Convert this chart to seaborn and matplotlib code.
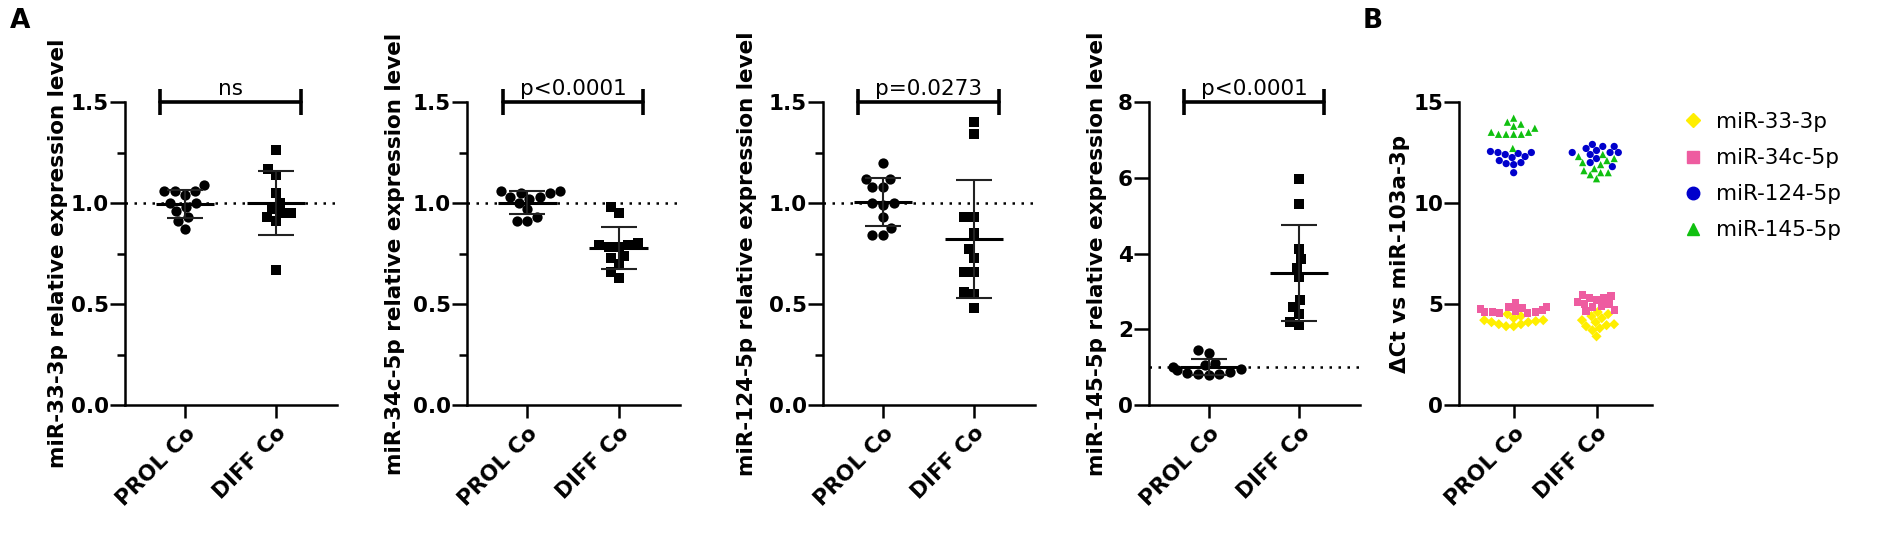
import numpy as np
import pandas as pd
import matplotlib
matplotlib.use('Agg')
import matplotlib.pyplot as plt
import seaborn as sns
from matplotlib.markers import MarkerStyle
from matplotlib.lines import Line2D
from matplotlib.ticker import MultipleLocator

groups = ['PROL Co', 'DIFF Co']

# Panel A - relative expression, one value per sample
mir33_prol = [1.04, 1.06, 1.06, 1.09, 1.06, 1.00, 1.00, 0.98, 0.96, 0.93, 0.91, 0.87]
mir33_diff = [1.26, 1.17, 1.14, 1.05, 1.00, 0.97, 0.95, 0.95, 0.93, 0.91, 0.67]
mir34c_prol = [1.03, 1.05, 1.06, 1.05, 1.06, 1.03, 1.02, 1.00, 0.97, 0.93, 0.91, 0.91]
mir34c_diff = [0.98, 0.95, 0.80, 0.79, 0.79, 0.78, 0.78, 0.74, 0.73, 0.70, 0.66, 0.63]
mir124_prol = [1.20, 1.12, 1.12, 1.08, 1.08, 1.00, 0.99, 1.00, 0.93, 0.875, 0.84, 0.84]
mir124_diff = [1.40, 1.34, 0.93, 0.93, 0.85, 0.77, 0.73, 0.66, 0.66, 0.56, 0.55, 0.48]
mir145_prol = [1.45, 1.38, 1.12, 1.05, 1.00, 0.95, 0.92, 0.88, 0.85, 0.83, 0.82, 0.80]
mir145_diff = [5.96, 5.32, 4.12, 3.85, 3.63, 3.39, 2.78, 2.60, 2.41, 2.20, 2.10]

ylabels = ['miR-33-3p relative expression level',
           'miR-34c-5p relative expression level',
           'miR-124-5p relative expression level',
           'miR-145-5p relative expression level']
pvals = ['ns', 'p<0.0001', 'p=0.0273', 'p<0.0001']
ytops = [1.5, 1.5, 1.5, 8]

# Panel B - delta Ct vs miR-103a-3p
mirs = ['miR-33-3p', 'miR-34c-5p', 'miR-124-5p', 'miR-145-5p']
dct_prol = {
    'miR-33-3p': [4.5, 4.4, 4.3, 4.2, 4.2, 4.15, 4.1, 4.1, 4.0, 4.0, 3.9, 3.9],
    'miR-34c-5p': [5.05, 4.85, 4.85, 4.8, 4.75, 4.7, 4.65, 4.6, 4.6, 4.6, 4.55, 4.55],
    'miR-124-5p': [12.55, 12.5, 12.5, 12.45, 12.4, 12.3, 12.25, 12.1, 12.0, 11.95, 11.9, 11.5],
    'miR-145-5p': [14.2, 14.0, 13.9, 13.8, 13.7, 13.5, 13.5, 13.4, 13.4, 13.4, 13.4, 12.7],
}
dct_diff = {
    'miR-33-3p': [4.6, 4.5, 4.4, 4.3, 4.2, 4.1, 4.0, 3.95, 3.9, 3.8, 3.7, 3.4],
    'miR-34c-5p': [5.45, 5.4, 5.3, 5.3, 5.2, 5.1, 5.0, 5.0, 4.9, 4.85, 4.7, 4.65],
    'miR-124-5p': [12.9, 12.8, 12.8, 12.7, 12.6, 12.5, 12.5, 12.5, 12.4, 12.2, 12.0, 11.8],
    'miR-145-5p': [12.4, 12.3, 12.2, 12.1, 12.0, 11.9, 11.7, 11.6, 11.5, 11.5, 11.4, 11.2],
}
mir_colors = ['#FFEE00', '#EE5CA0', '#0000CC', '#10C010']
mir_markers = ['D', 's', 'o', '^']

sns.set_theme(style='ticks')
plt.rcParams['font.family'] = ['DejaVu Sans']
plt.rcParams.update({
    'axes.linewidth': 1.8,
    'axes.edgecolor': 'black',
    'axes.labelcolor': 'black',
    'text.color': 'black',
    'xtick.color': 'black',
    'ytick.color': 'black',
})

FS = 15.5
W, H = 1901, 551
fig = plt.figure(figsize=(W / 100, H / 100), dpi=100)
bottom = 1 - 405 / H
height = (405 - 102) / H


def style_axis(ax, label, label_dist, width_px):
    sns.despine(ax=ax)
    ax.set_xlim(-0.66, 1.67)
    ax.tick_params(axis='y', which='major', length=10.5, width=1.8, pad=1, labelsize=FS)
    ax.tick_params(axis='y', which='minor', length=5.5, width=1.8)
    ax.tick_params(axis='x', length=9, width=1.8, pad=4, labelsize=FS)
    for t in ax.get_yticklabels():
        t.set_fontweight('bold')
    ax.set_xticks([0, 1])
    ax.set_xticklabels(groups, rotation=45, ha='right', rotation_mode='anchor', fontweight='bold')
    ax.set_xlabel('')
    ax.set_ylabel(label, fontsize=FS, fontweight='bold')
    ax.yaxis.set_label_coords(-label_dist / width_px, 0.5)


def marker_path(m):
    ms = MarkerStyle(m)
    return ms.get_path().transformed(ms.get_transform())


# ---- panel A ----
lefts = [125, 467, 823, 1149]
widths = [212, 213, 212, 211]
label_dists = [57, 62, 66, 42]
data_a = [(mir33_prol, mir33_diff), (mir34c_prol, mir34c_diff),
          (mir124_prol, mir124_diff), (mir145_prol, mir145_diff)]

for k in range(4):
    ax = fig.add_axes([lefts[k] / W, bottom, widths[k] / W, height])
    prol, diff = data_a[k]
    df = pd.DataFrame({'group': [groups[0]] * len(prol) + [groups[1]] * len(diff),
                       'value': prol + diff})
    for g, m, sz in zip(groups, ['o', 's'], [7.4, 6.8]):
        sns.swarmplot(data=df[df.group == g], x='group', y='value', order=groups,
                      color='black', marker=m, size=sz, ax=ax, zorder=2)
    # mean +/- SD
    for i, g in enumerate(groups):
        v = df.loc[df.group == g, 'value']
        mu, sd = v.mean(), v.std()
        ax.hlines(mu, i - 0.32, i + 0.32, color='black', lw=2.2, zorder=3)
        ax.errorbar(i, mu, yerr=sd, color='#222222', lw=1.5, capsize=13,
                    capthick=1.5, zorder=3)
    top = ytops[k]
    ax.axhline(1, color='black', ls=(0, (1, 2.6)), lw=1.8, zorder=1)
    ax.set_ylim(0, top)
    if top == 8:
        ax.set_yticks([0, 2, 4, 6, 8])
    else:
        ax.set_yticks([0, 0.5, 1.0, 1.5])
        ax.yaxis.set_minor_locator(MultipleLocator(0.25))
    # significance bracket
    d = 0.043 * top
    ax.plot([-0.27, 1.27], [top, top], color='black', lw=2.6, clip_on=False)
    ax.vlines([-0.27, 1.27], top - d, top + d, color='black', lw=2.6, clip_on=False)
    ax.annotate(pvals[k], (0.5, top), xytext=(0, 2), textcoords='offset points',
                ha='center', va='bottom', fontsize=FS)
    style_axis(ax, ylabels[k], label_dists[k], widths[k])

# ---- panel B ----
axb = fig.add_axes([1459 / W, bottom, 193 / W, height])
rows = []
for g, src in zip(groups, [dct_prol, dct_diff]):
    for mir in mirs:
        for v in src[mir]:
            rows.append((g, mir, v))
dfb = pd.DataFrame(rows, columns=['group', 'mir', 'dct'])
pal = dict(zip(mirs, mir_colors))
sns.swarmplot(data=dfb, x='group', y='dct', hue='mir', hue_order=mirs, order=groups,
              palette=pal, size=5.2, ax=axb, legend=False)
# give every point the marker of its miRNA
col_arr = np.array([matplotlib.colors.to_rgba(c) for c in mir_colors])
for coll in axb.collections:
    fc = coll.get_facecolors()
    idx = [int(np.argmin(((col_arr - c) ** 2).sum(axis=1))) for c in fc]
    coll.set_paths([marker_path(mir_markers[i]) for i in idx])
axb.set_ylim(0, 15)
axb.set_yticks([0, 5, 10, 15])
style_axis(axb, '\u0394Ct vs miR-103a-3p', 49, 193)

handles = [Line2D([], [], marker=m, color=c, ls='', markersize=9 if m != 'D' else 7)
           for m, c in zip(mir_markers, mir_colors)]
fig.legend(handles, mirs, loc='upper left', bbox_to_anchor=(1682 / W, 1 - 112 / H),
           frameon=False, fontsize=FS, borderpad=0, borderaxespad=0, handlelength=1,
           handletextpad=0.6, labelspacing=0.75)

fig.text(10 / W, 1 - 8 / H, 'A', fontsize=19, fontweight='bold', va='top', ha='left')
fig.text(1363 / W, 1 - 8 / H, 'B', fontsize=19, fontweight='bold', va='top', ha='left')

fig.savefig('out.png', dpi=100)
